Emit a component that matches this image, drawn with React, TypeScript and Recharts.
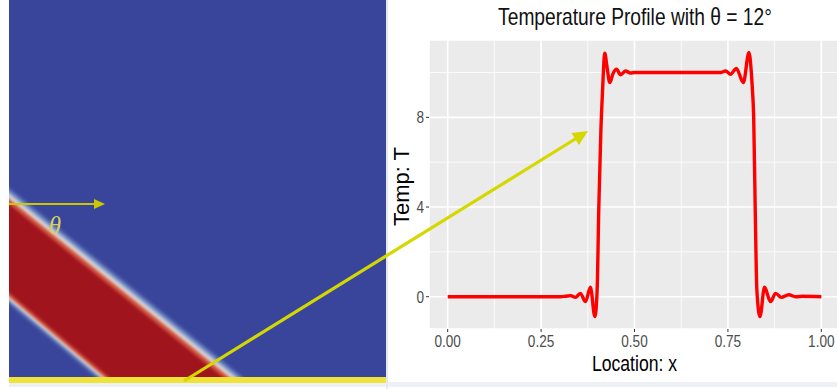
import React from 'react';
import {
  LineChart,
  Line,
  XAxis,
  YAxis,
  CartesianGrid,
  ReferenceLine,
  ComposedChart,
  Area,
  ReferenceArea,
} from 'recharts';

// ---- Temperature profile ----
const locationX = [
  0, 0.1, 0.2, 0.28, 0.302, 0.315, 0.329, 0.342, 0.355, 0.369, 0.382, 0.394, 0.4, 0.4045, 0.41,
  0.414, 0.4206, 0.426, 0.434, 0.4425, 0.452, 0.4626, 0.4764, 0.489, 0.5, 0.6, 0.7, 0.73, 0.744,
  0.757, 0.7726, 0.7913, 0.8063, 0.8127, 0.8154, 0.819, 0.823, 0.8275, 0.8358, 0.848, 0.864,
  0.8777, 0.893, 0.913, 0.931, 0.95, 1.0,
];
const temperature = [
  0, 0, 0, 0, 0.0, 0.02, 0.05, -0.03, 0.15, -0.22, 0.42, -0.89, 0.3, 4.0, 7.4,
  9.0, 10.86, 10.3, 9.55, 9.95, 10.15, 9.9, 10.07, 9.98, 10.0, 10.0, 10.0, 10.0, 10.07,
  9.92, 10.18, 9.55, 10.9, 10.0, 9.3, 8.0, 4.0, 0.3, -0.89, 0.42, -0.22,
  0.15, -0.03, 0.09, 0.0, 0.02, 0.0,
];
const xTicks = [0, 0.25, 0.5, 0.75, 1.0];
const yTicks = [0, 4, 8];
const xMinor = [0.125, 0.375, 0.625, 0.875];
const yMinor = [2, 6, 10];

const chartTitle = 'Temperature Profile with \u03b8 = 12\u00b0';
const xTitle = 'Location: x';
const yTitle = 'Temp: T';

// ---- Left heat-map band (unit square coordinates) ----
const bandX = [-0.05, 0.7];
const bandUpper = [0.507, -0.1];
const bandLower = [0.257, -0.376];

const profileData = locationX.map((x, i) => ({ x, t: temperature[i] }));
const bandData = bandX.map((x, i) => ({ x, lo: bandLower[i], hi: bandUpper[i] }));

const FONT = '"Liberation Sans", Arial, Helvetica, sans-serif';
const SQ = 0.8;

const XTick = (props: any) => {
  const { x, y, payload } = props;
  return (
    <text
      transform={`translate(${x},${y + 13}) scale(${SQ},1)`}
      textAnchor="middle"
      fill="#4D4D4D"
      fontSize={17}
      fontFamily={FONT}
    >
      {Number(payload.value).toFixed(2)}
    </text>
  );
};

const YTick = (props: any) => {
  const { x, y, payload } = props;
  return (
    <text
      transform={`translate(${x},${y + 6}) scale(${SQ},1)`}
      textAnchor="end"
      fill="#4D4D4D"
      fontSize={17}
      fontFamily={FONT}
    >
      {String(payload.value)}
    </text>
  );
};

const XTitle = (props: any) => {
  const vb = props.viewBox || {};
  return (
    <text
      transform={`translate(${vb.x + vb.width / 2},${vb.y + 42}) scale(${SQ},1)`}
      textAnchor="middle"
      fill="#000"
      fontSize={22}
      fontFamily={FONT}
    >
      {xTitle}
    </text>
  );
};

const YTitle = (props: any) => {
  const vb = props.viewBox || {};
  const cx = vb.x + 15;
  const cy = vb.y + vb.height / 2 + 2;
  return (
    <text
      transform={`translate(${cx},${cy}) rotate(-90)`}
      textAnchor="middle"
      dominantBaseline="central"
      fill="#000"
      fontSize={22}
      fontFamily={FONT}
    >
      {yTitle}
    </text>
  );
};

const bandLayers = [
  { up: 0.03, down: 0.016, color: '#8AA6D4', blur: 2 },
  { up: 0.018, down: 0.009, color: '#E2D8D4', blur: 1.5 },
  { up: 0.006, down: 0.002, color: '#D0533D', blur: 1.5 },
  { up: -0.008, down: -0.008, color: '#A0141E', blur: 1.5 },
];

export default function App() {
  return (
    <div
      style={{
        position: 'absolute',
        left: 0,
        top: 0,
        width: 837,
        height: 389,
        overflow: 'hidden',
        background: '#FFFFFF',
      }}
    >
      {/* bottom light strip */}
      <div style={{ position: 'absolute', left: 9, top: 382, width: 828, height: 5, background: '#EDF1F5' }} />
      {/* separator */}
      <div style={{ position: 'absolute', left: 386, top: 0, width: 2, height: 389, background: '#E3E9F0' }} />

      {/* Left panel: heat map */}
      <div style={{ position: 'absolute', left: 9, top: 0 }}>
        <ComposedChart width={377} height={377} data={bandData} margin={{ top: 0, right: 0, bottom: 0, left: 0 }}>
          <XAxis dataKey="x" type="number" domain={[0, 1]} hide allowDataOverflow />
          <YAxis type="number" domain={[0, 1]} hide allowDataOverflow />
          <ReferenceArea x1={0} x2={1} y1={0} y2={1} fill="#38459B" fillOpacity={1} stroke="none" ifOverflow="hidden" />
          {bandLayers.map((L, i) => (
            <Area
              key={i}
              dataKey={(d: any) => [d.lo - L.down, d.hi + L.up]}
              type="linear"
              stroke="none"
              fill={L.color}
              fillOpacity={1}
              isAnimationActive={false}
              style={{ filter: `blur(${L.blur}px)` }}
            />
          ))}
        </ComposedChart>
      </div>
      {/* yellow bottom bar */}
      <div style={{ position: 'absolute', left: 9, top: 377, width: 377, height: 6, background: '#EFE238' }} />

      {/* Right panel: temperature profile */}
      <div style={{ position: 'absolute', left: 385.6, top: 0 }}>
        <LineChart width={454} height={389} data={profileData} margin={{ top: 40, right: 0, bottom: 0, left: 0 }}>
          <CartesianGrid stroke="#FFFFFF" strokeWidth={1.6} fill="#EBEBEB" fillOpacity={1} />
          {xMinor.map((v) => (
            <ReferenceLine key={'xm' + v} x={v} stroke="#FFFFFF" strokeWidth={0.8} />
          ))}
          {yMinor.map((v) => (
            <ReferenceLine key={'ym' + v} y={v} stroke="#FFFFFF" strokeWidth={0.8} />
          ))}
          <XAxis
            dataKey="x"
            type="number"
            domain={[-0.05, 1.05]}
            ticks={xTicks}
            height={60}
            axisLine={false}
            tickSize={3}
            tickLine={{ stroke: '#333333' }}
            tick={<XTick />}
            label={<XTitle />}
            allowDataOverflow
          />
          <YAxis
            type="number"
            domain={[-1.44, 11.45]}
            ticks={yTicks}
            width={43}
            axisLine={false}
            tickSize={3}
            tickLine={{ stroke: '#333333' }}
            tick={<YTick />}
            label={<YTitle />}
            allowDataOverflow
          />
          <Line
            dataKey="t"
            type="monotone"
            stroke="#FF0000"
            strokeWidth={3.4}
            dot={false}
            strokeLinejoin="round"
            isAnimationActive={false}
          />
        </LineChart>
      </div>

      {/* Annotations */}
      <svg width={837} height={389} style={{ position: 'absolute', left: 0, top: 0, pointerEvents: 'none' }}>
        <text
          transform={`translate(635,25) scale(${SQ},1)`}
          textAnchor="middle"
          fill="#111111"
          fontSize={24}
          fontFamily={FONT}
        >
          {chartTitle}
        </text>
        {/* horizontal arrow */}
        <line x1={9} y1={204} x2={96} y2={204} stroke="#CCC800" strokeWidth={2} />
        <polygon points="105,204 94,199 94,209" fill="#CCC800" />
        <text x={55} y={234} textAnchor="middle" fill="#D6D15E" fontSize={25} fontStyle="italic" fontFamily='"Liberation Serif", "DejaVu Serif", serif'>
          {'\u03b8'}
        </text>
        {/* diagonal arrow */}
        <line x1={184} y1={381} x2={576} y2={138.5} stroke="#D4D800" strokeWidth={3.2} />
        <polygon points="588,131 578.9,144.9 571.5,132.9" fill="#D4D800" />
      </svg>
    </div>
  );
}
